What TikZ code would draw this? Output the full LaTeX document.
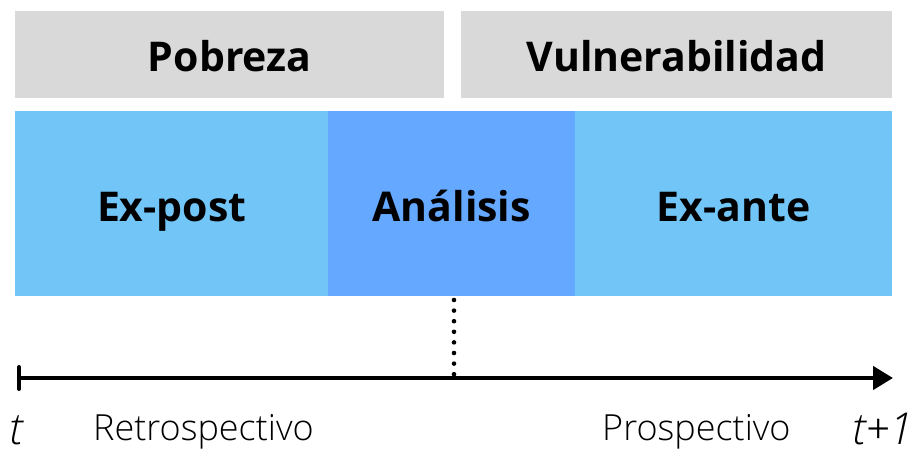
\documentclass[tikz,border=0pt]{standalone}
\usepackage{fontspec}
\setmainfont{Open Sans}
\newfontfamily\lightfont{Open Sans Light}
\usetikzlibrary{arrows.meta}
\definecolor{boxgray}{HTML}{D9D9D9}
\definecolor{lightblue}{HTML}{72C5F7}
\definecolor{midblue}{HTML}{64A8FF}
\begin{document}
\begin{tikzpicture}[x=1pt,y=-1pt,
  band/.style={draw=none,minimum height=#1,inner sep=0pt,anchor=north west},
  head/.style={font=\fontsize{41}{44}\selectfont\bfseries,inner sep=0pt,anchor=base},
  lbl/.style={font=\lightfont\fontsize{36}{38}\selectfont,inner sep=0pt,anchor=base west},
  tlbl/.style={font=\lightfont\itshape\fontsize{44}{46}\selectfont,inner sep=0pt}]
\useasboundingbox[fill=white] (0,0) rectangle (918,449);
% top grey boxes
\node[band=87pt,fill=boxgray,minimum width=429pt] (pob) at (15,11) {};
\node[head] (pobt) at (pob.center |- 0,72) {Pobreza};
\node[band=87pt,fill=boxgray,minimum width=431pt] (vul) at (461,11) {};
\node[head] (vult) at (vul.center |- 0,72) {Vulnerabilidad};
% blue band
\node[band=185pt,fill=lightblue,minimum width=313pt] (expost) at (15,111) {};
\node[head] (expostt) at (expost.center |- 0,222) {Ex-post};
\node[band=185pt,fill=midblue,minimum width=247pt] (anal) at (328,111) {};
\node[head] (analt) at (anal.center |- 0,222) {Análisis};
\node[band=185pt,fill=lightblue,minimum width=317pt] (exante) at (575,111) {};
\node[head] (exantet) at (exante.center |- 0,222) {Ex-ante};
% time axis
\coordinate (tstart) at (17,378);
\coordinate (tend) at (893,378);
\coordinate (dtop) at (454,300);
\coordinate (dbot) at (454,376);
\draw[line width=4.5pt,{Bar[width=22pt,line width=4pt,round]}-{Triangle[length=20pt,width=23pt]}] (tstart) -- (tend);
\draw[line width=4.6pt,line cap=round,dash pattern=on 0pt off 10.6pt] (dtop) -- (dbot);
% labels
\node[tlbl,anchor=base west] (t0) at (9,444) {t};
\node[lbl] (retro) at (93,440) {Retrospectivo};
\node[lbl] (pros) at (602,440) {Prospectivo};
\node[tlbl,anchor=base east] (t1) at (914,444) {t+1};
\end{tikzpicture}
\end{document}
